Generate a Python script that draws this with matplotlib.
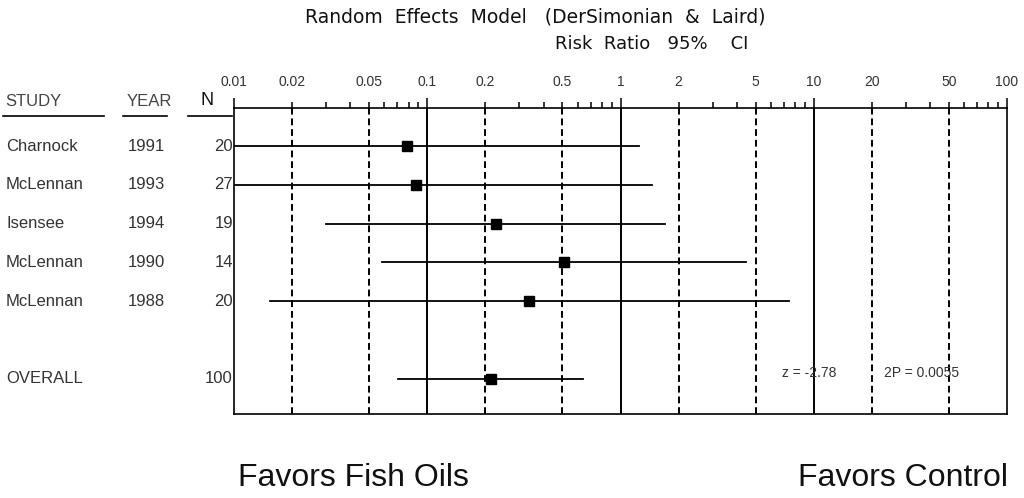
import matplotlib
matplotlib.use("Agg")
import matplotlib.pyplot as plt
import matplotlib.transforms as mtransforms
from matplotlib.lines import Line2D

# data
studies = ["Charnock", "McLennan", "Isensee", "McLennan", "McLennan"]
years = ["1991", "1993", "1994", "1990", "1988"]
n_values = ["20", "27", "19", "14", "20"]
rr = [0.079, 0.087, 0.227, 0.51, 0.337]
ci_low = [0.005, 0.005, 0.030, 0.0585, 0.0154]
ci_high = [1.24, 1.46, 1.69, 4.44, 7.45]

overall_n = "100"
overall_rr = 0.213
overall_low = 0.0709
overall_high = 0.637

tick_values = [0.01, 0.02, 0.05, 0.1, 0.2, 0.5, 1, 2, 5, 10, 20, 50, 100]
tick_labels = ["0.01", "0.02", "0.05", "0.1", "0.2", "0.5", "1", "2", "5",
               "10", "20", "50", "100"]
dashed_refs = [0.02, 0.05, 0.2, 0.5, 2, 5, 20, 50]
solid_refs = [0.1, 1, 10]

SANS = ["Liberation Sans", "DejaVu Sans"]
W, H = 1024, 498


def fx(px):
    return px / W


def fy(py):
    return 1 - py / H


fig = plt.figure(figsize=(W / 100, H / 100), dpi=100)
ax = fig.add_axes([fx(234), fy(414), fx(1007) - fx(234), fy(108) - fy(414)])

ax.set_xscale("log")
ax.set_xlim(0.01, 100)
ax.set_ylim(7.907, 0.0206)

# reference lines
for v in dashed_refs:
    ax.axvline(v, color="black", lw=1.4, linestyle=(0, (3.5, 2)), zorder=1)
for v in solid_refs:
    ax.axvline(v, color="black", lw=1.4, zorder=1)

# study rows
rows = list(range(1, len(studies) + 1))
for y, est, lo, hi in zip(rows, rr, ci_low, ci_high):
    ax.plot([lo, hi], [y, y], color="black", lw=1.3, zorder=2, clip_on=True)
    ax.plot(est, y, marker="s", color="black", markersize=7, zorder=3)

overall_row = 7
ax.plot([overall_low, overall_high], [overall_row, overall_row],
        color="black", lw=1.3, zorder=2)
ax.plot(overall_rr, overall_row, marker="s", color="black", markersize=7, zorder=3)

# axis styling: ticks on top only
ax.xaxis.tick_top()
ax.set_yticks([])
major = [v for v in tick_values if v in (0.01, 0.1, 1, 10, 100)]
major_labels = [l for v, l in zip(tick_values, tick_labels) if v in major]
ax.set_xticks(major, labels=major_labels)
minor = []
minor_labels = []
for dec in [0.01, 0.1, 1, 10]:
    for m in range(2, 10):
        val = round(dec * m, 4)
        minor.append(val)
        minor_labels.append(tick_labels[tick_values.index(val)]
                            if val in tick_values else "")
ax.set_xticks(minor, labels=minor_labels, minor=True)
ax.tick_params(axis="x", which="major", direction="out", length=7.5, width=1.1,
               pad=6, labelsize=10)
ax.tick_params(axis="x", which="minor", direction="out", length=4.5, width=1.1,
               pad=9, labelsize=10)
for lab in ax.get_xticklabels(which="both"):
    lab.set_family(SANS)
    lab.set_color("#333333")
for sp in ax.spines.values():
    sp.set_linewidth(1.2)

# left-hand table
trans = mtransforms.blended_transform_factory(fig.transFigure, ax.transData)
for y, name, yr, n in zip(rows, studies, years, n_values):
    ax.text(fx(6), y, name, transform=trans, ha="left", va="center",
            fontsize=12, family=SANS, color="#333333")
    ax.text(fx(128), y, yr, transform=trans, ha="left", va="center",
            fontsize=12, family=SANS, color="#333333")
    ax.text(fx(233), y, n, transform=trans, ha="right", va="center",
            fontsize=12, family=SANS, color="#333333")
ax.text(fx(6), overall_row, "OVERALL", transform=trans, ha="left", va="center",
        fontsize=12, family=SANS, color="#333333")
ax.text(fx(233), overall_row, overall_n, transform=trans, ha="right", va="center",
        fontsize=12, family=SANS, color="#333333")

# column headers and underlines
fig.text(fx(5), fy(102), "STUDY", ha="left", va="center", fontsize=12,
         family=SANS, color="#444444")
fig.text(fx(127), fy(102), "YEAR", ha="left", va="center", fontsize=12,
         family=SANS, color="#444444")
fig.text(fx(200), fy(100), "N", ha="left", va="center", fontsize=13,
         family=SANS, color="#111111")
for x0, x1 in [(3, 104), (123, 167), (188, 232)]:
    fig.add_artist(Line2D([fx(x0), fx(x1)], [fy(116), fy(116)],
                          color="black", lw=1.2))

# titles
fig.text(fx(535), fy(17), "Random  Effects  Model   (DerSimonian  &  Laird)",
         ha="center", va="center", fontsize=13.5, color="#111111")
fig.text(fx(652), fy(44), "Risk  Ratio   95%    CI", ha="center", va="center",
         fontsize=13, color="#111111")

# test statistics
fig.text(fx(782), fy(373), "z = -2.78", ha="left", va="center", fontsize=10,
         family=SANS, color="#333333")
fig.text(fx(884), fy(373), "2P = 0.0055", ha="left", va="center", fontsize=10,
         family=SANS, color="#333333")

# footer
fig.text(fx(238), fy(478), "Favors Fish Oils", ha="left", va="center",
         fontsize=23, family=SANS, color="#111111")
fig.text(fx(1008), fy(478), "Favors Control", ha="right", va="center",
         fontsize=23, family=SANS, color="#111111")

fig.savefig("out.png", dpi=100)
